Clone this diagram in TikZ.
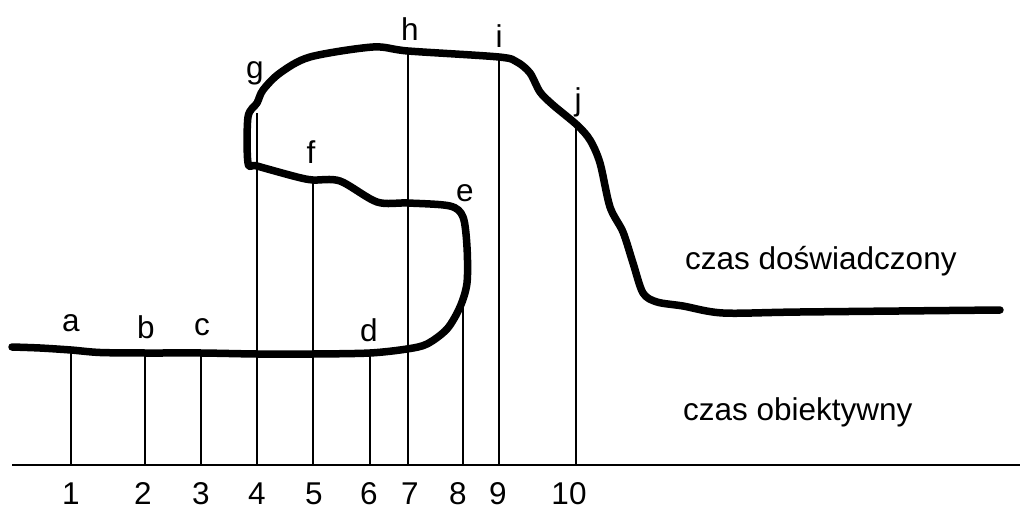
\documentclass[tikz,border=0pt]{standalone}
\usepackage{fontspec}
\setmainfont{Liberation Sans}
\begin{document}
\begin{tikzpicture}[x=1pt, y=-1pt,
    lbl/.style={inner sep=0pt, font=\fontsize{31.5}{36}\selectfont},
    tick/.style={line width=1.3pt},
    curve/.style={line width=7.5pt, line join=round, line cap=round}]
    \useasboundingbox (0,0) rectangle (1026,508);

    % Time axis
    \coordinate (axl) at (12,465);
    \coordinate (axr) at (1020,465);
    \draw[line width=2pt] (axl) -- (axr);

    % Points on the experienced-time curve
    \coordinate (t1) at (71,350);
    \coordinate (t2) at (145,353);
    \coordinate (t3) at (201,353);
    \coordinate (t4) at (257,113);
    \coordinate (t5) at (313,181);
    \coordinate (t6) at (370,353);
    \coordinate (t7) at (408,51);
    \coordinate (t8) at (463,297);
    \coordinate (t9) at (499,57);
    \coordinate (t10) at (576,128);

    % Feet on the axis
    \coordinate (b1) at (71,465);
    \coordinate (b2) at (145,465);
    \coordinate (b3) at (201,465);
    \coordinate (b4) at (257,465);
    \coordinate (b5) at (313,465);
    \coordinate (b6) at (370,465);
    \coordinate (b7) at (408,465);
    \coordinate (b8) at (463,465);
    \coordinate (b9) at (499,465);
    \coordinate (b10) at (576,465);

    \draw[tick] (b1) -- (t1);
    \draw[tick] (b2) -- (t2);
    \draw[tick] (b3) -- (t3);
    \draw[tick] (b4) -- (t4);
    \draw[tick] (b5) -- (t5);
    \draw[tick] (b6) -- (t6);
    \draw[tick] (b7) -- (t7);
    \draw[tick] (b8) -- (t8);
    \draw[tick] (b9) -- (t9);
    \draw[tick] (b10) -- (t10);

    % Experienced time
    \draw[curve] plot[smooth, tension=0.5] coordinates {
        (12,347) (40,348) (71,350) (100,352.5) (145,353) (201,353)
        (257,354) (313,354) (370,353) (407,349) (427,344) (447,329)
        (460,307) (467,283) (467,247) (463,217) (450,206) (408,203)
        (377,202) (340,181) (313,180) (297,177) (257,166) (248,163)
        (248,117) (257,103) (263,90) (280,73) (310,57) (373,47)
        (408,51) (499,57) (517,62) (530,73) (540,92) (553,105)
        (577,125) (590,140) (600,163) (610,207) (623,232) (633,263)
        (643,293) (657,302) (683,306) (723,313) (800,312) (1000,310)};

    % Letters
    \node[lbl] (la) at (71,323) {a};
    \node[lbl] (lb) at (146,327) {b};
    \node[lbl] (lc) at (202,327) {c};
    \node[lbl] (ld) at (369,330) {d};
    \node[lbl] (le) at (465,193) {e};
    \node[lbl] (lf) at (311,152) {f};
    \node[lbl] (lg) at (255,73) {g};
    \node[lbl] (lh) at (410,29) {h};
    \node[lbl] (li) at (499,36) {i};
    \node[lbl] (lj) at (578,102) {j};

    % Numbers
    \node[lbl, anchor=base] (n1) at (71,504) {1};
    \node[lbl, anchor=base] (n2) at (143,504) {2};
    \node[lbl, anchor=base] (n3) at (201,504) {3};
    \node[lbl, anchor=base] (n4) at (257,504) {4};
    \node[lbl, anchor=base] (n5) at (314,504) {5};
    \node[lbl, anchor=base] (n6) at (369,504) {6};
    \node[lbl, anchor=base] (n7) at (410,504) {7};
    \node[lbl, anchor=base] (n8) at (458,504) {8};
    \node[lbl, anchor=base] (n9) at (498,504) {9};
    \node[lbl, anchor=base] (n10) at (569,504) {10};

    % Captions
    \node[lbl, anchor=base west] (exp) at (685,269) {czas doświadczony};
    \node[lbl, anchor=base west] (obj) at (683,420) {czas obiektywny};
\end{tikzpicture}
\end{document}
